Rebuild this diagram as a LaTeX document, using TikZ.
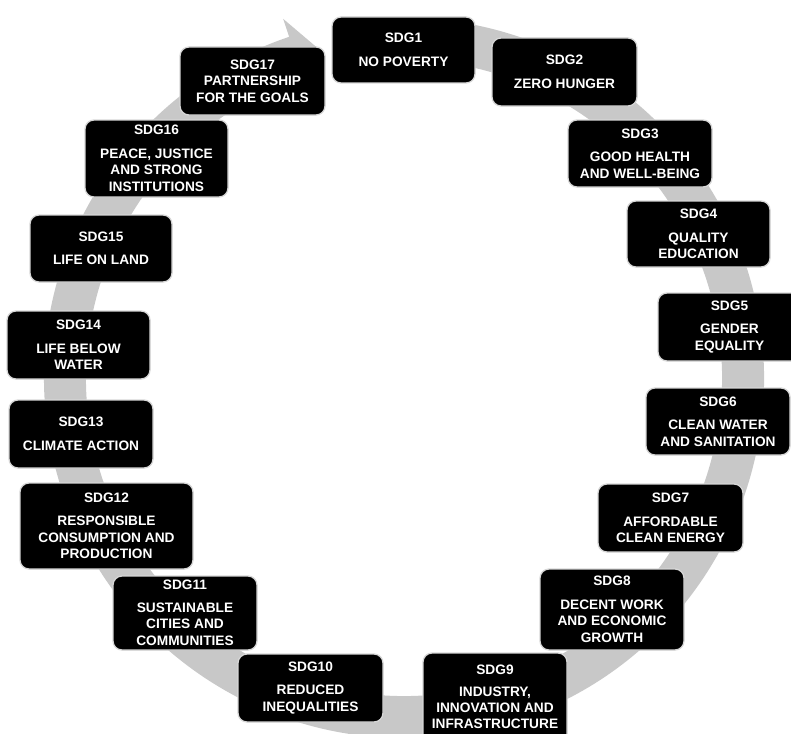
\documentclass[tikz,border=0pt]{standalone}
\usepackage{fontspec}
\setmainfont{Liberation Sans}
\definecolor{ringgray}{RGB}{200,200,200}
\definecolor{edgegray}{RGB}{215,215,215}
\newcommand\sdgbox[6]{%
  \node[sdg, minimum width={(#3-#2)*1pt}, minimum height={(#5-#4)*1pt}]
    (#1) at ({(#2+#3)/2},{(#4+#5)/2}) {#6};}
\begin{document}
\begin{tikzpicture}[x=1pt,y=-1pt,
  sdg/.style={draw=edgegray, line width=1.3pt, fill=black, rounded corners=9pt,
    text=white, font=\fontsize{13.7}{16.5}\selectfont\bfseries, align=center, inner sep=0pt}]
\useasboundingbox (0,0) rectangle (791,733);
\clip (0,0) rectangle (791,733);
\begin{scope}[shift={(404,378)}]
\fill[ringgray] (-101:360) arc[start angle=-101,end angle=251.4,radius=360]
  -- (251.4:379) -- (255.1:343) -- (251.4:299) -- (251.4:318)
  arc[start angle=251.4,end angle=-101,radius=318] -- cycle;
\end{scope}
\sdgbox{s1}{332}{475}{17}{83}{SDG1\\[7pt]NO POVERTY}
\sdgbox{s2}{492}{637}{38}{106}{SDG2\\[7pt]ZERO HUNGER}
\sdgbox{s3}{568}{712}{120}{187}{SDG3\\[7pt]GOOD HEALTH\\AND WELL-BEING}
\sdgbox{s4}{627}{770}{201}{267}{SDG4\\[7pt]QUALITY\\EDUCATION}
\sdgbox{s5}{658}{801}{293}{361}{SDG5\\[7pt]GENDER\\EQUALITY}
\sdgbox{s6}{646}{790}{388}{455}{SDG6\\[7pt]CLEAN WATER\\AND SANITATION}
\sdgbox{s7}{598}{743}{484}{552}{SDG7\\[7pt]AFFORDABLE\\CLEAN ENERGY}
\sdgbox{s8}{540}{684}{569}{650}{SDG8\\[7pt]DECENT WORK\\AND ECONOMIC\\GROWTH}
\node[sdg, minimum width=144pt, minimum height=96pt] (s9) at (495,701) {};
\node[text=white, font=\fontsize{13.7}{16}\selectfont\bfseries, align=center, inner sep=0pt]
  (s9t) at (495,697) {SDG9\\[6pt]INDUSTRY,\\INNOVATION AND\\INFRASTRUCTURE};
\sdgbox{s10}{238}{383}{654}{722}{SDG10\\[7pt]REDUCED\\INEQUALITIES}
\sdgbox{s11}{113}{257}{576}{650}{SDG11\\[6pt]SUSTAINABLE\\CITIES AND\\COMMUNITIES}
\sdgbox{s12}{20}{193}{483}{569}{SDG12\\[7pt]RESPONSIBLE\\CONSUMPTION AND\\PRODUCTION}
\sdgbox{s13}{9}{153}{400}{468}{SDG13\\[7pt]CLIMATE ACTION}
\sdgbox{s14}{7}{150}{311}{379}{SDG14\\[7pt]LIFE BELOW\\WATER}
\sdgbox{s15}{30}{172}{215}{282}{SDG15\\[7pt]LIFE ON LAND}
\sdgbox{s16}{85}{228}{120}{197}{SDG16\\[7pt]PEACE, JUSTICE\\AND STRONG\\INSTITUTIONS}
\sdgbox{s17}{180}{325}{47}{115}{SDG17\\PARTNERSHIP\\FOR THE GOALS}
\end{tikzpicture}
\end{document}
